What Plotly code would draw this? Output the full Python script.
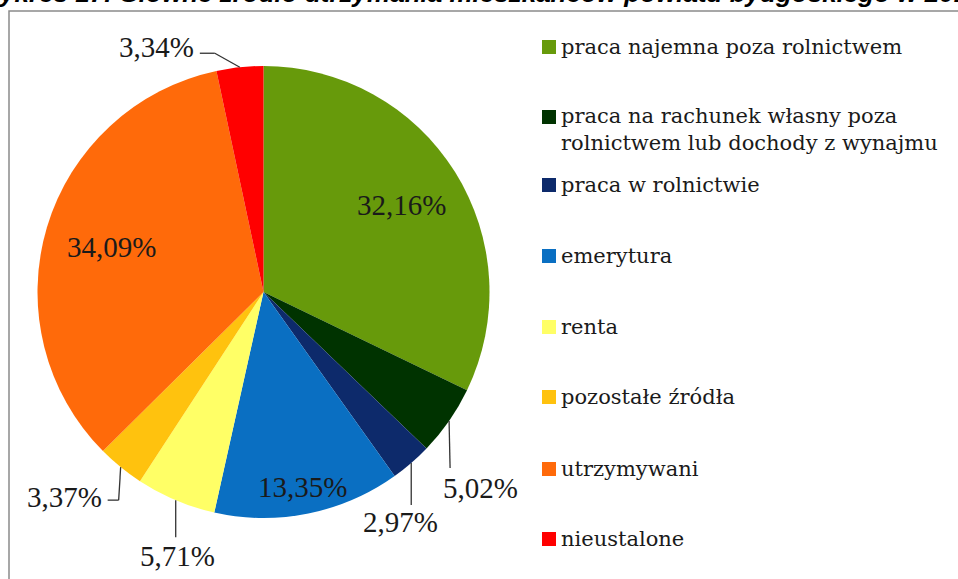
import math
import plotly.graph_objects as go

categories = [
    "praca najemna poza rolnictwem",
    "praca na rachunek własny poza<br>rolnictwem lub dochody z wynajmu",
    "praca w rolnictwie",
    "emerytura",
    "renta",
    "pozostałe źródła",
    "utrzymywani",
    "nieustalone",
]
values = [32.16, 5.02, 2.97, 13.35, 5.71, 3.37, 34.09, 3.34]
value_labels = ["32,16%", "5,02%", "2,97%", "13,35%", "5,71%", "3,37%", "34,09%", "3,34%"]
colors = ["#679A0B", "#003300", "#0D2A6B", "#0A6FC2", "#FFFF66", "#FFC20E", "#FF6A0A", "#FF0000"]
title_text = "Wykres 17. Główne źródło utrzymania mieszkańców powiatu bydgoskiego w 2011 r."

W, H = 958, 579
CX, CY, R = 263.5, 292.0, 226.0


def px(x):
    return x / W


def py(y):
    return 1 - y / H


fig = go.Figure()
fig.add_trace(go.Pie(
    labels=categories,
    values=values,
    sort=False,
    direction="clockwise",
    rotation=0,
    marker=dict(colors=colors, line=dict(width=0)),
    textinfo="none",
    hoverinfo="label+percent",
    showlegend=False,
    domain=dict(x=[px(CX - R), px(CX + R)], y=[py(CY + R), py(CY - R)]),
))

# mid angles of slices (clockwise from 12 o'clock)
total = sum(values)
mids = []
acc = 0.0
for v in values:
    mids.append((acc + v / 2) / total * 2 * math.pi)
    acc += v


def on_circle(i, frac):
    a = mids[i]
    return CX + frac * R * math.sin(a), CY - frac * R * math.cos(a)


annotations = []
shapes = []
label_font = dict(family="Liberation Serif, Times New Roman, serif", size=29, color="#1a1a1a")

# inside labels
for i, frac in [(0, 0.72), (6, 0.70), (3, 0.88)]:
    x, y = on_circle(i, frac)
    annotations.append(dict(x=px(x), y=py(y), xref="paper", yref="paper", text=value_labels[i],
                            showarrow=False, font=label_font, xanchor="center", yanchor="middle"))

line_style = dict(color="#333333", width=1.3)


def seg(x0, y0, x1, y1):
    shapes.append(dict(type="line", xref="paper", yref="paper", x0=px(x0), y0=py(y0),
                       x1=px(x1), y1=py(y1), line=line_style))


# outside labels with leader lines
# dark green (5,02%)
x, y = on_circle(1, 1.0)
seg(x, y, x + 1, y + 47)
annotations.append(dict(x=px(x + 31), y=py(y + 67), xref="paper", yref="paper", text=value_labels[1],
                        showarrow=False, font=label_font, xanchor="center", yanchor="middle"))
# navy (2,97%)
x, y = on_circle(2, 1.0)
seg(x, y, x, y + 42)
annotations.append(dict(x=px(x - 11), y=py(y + 59), xref="paper", yref="paper", text=value_labels[2],
                        showarrow=False, font=label_font, xanchor="center", yanchor="middle"))
# yellow (5,71%)
x, y = on_circle(4, 1.0)
seg(x, y, x, y + 37)
annotations.append(dict(x=px(x + 2), y=py(y + 56), xref="paper", yref="paper", text=value_labels[4],
                        showarrow=False, font=label_font, xanchor="center", yanchor="middle"))
# gold (3,37%)
x, y = on_circle(5, 1.0)
seg(x, y, x - 2, y + 33)
seg(x - 2, y + 33, x - 13, y + 33)
annotations.append(dict(x=px(x - 17), y=py(y + 30), xref="paper", yref="paper", text=value_labels[5],
                        showarrow=False, font=label_font, xanchor="right", yanchor="middle"))
# red (3,34%)
x, y = on_circle(7, 1.0)
seg(x, y, x - 25, y - 14)
seg(x - 25, y - 14, x - 40, y - 14)
annotations.append(dict(x=px(x - 44), y=py(y - 20), xref="paper", yref="paper", text=value_labels[7],
                        showarrow=False, font=label_font, xanchor="right", yanchor="middle"))

# custom legend
legend_font = dict(family="DejaVu Serif, Liberation Serif, serif", size=21, color="#1a1a1a")
legend_rows = [47, 117, 185, 256, 327, 397, 469, 539]
for i, (cat, yc) in enumerate(zip(categories, legend_rows)):
    shapes.append(dict(type="rect", xref="paper", yref="paper",
                       x0=px(542), x1=px(556), y0=py(yc + 7), y1=py(yc - 7),
                       fillcolor=colors[i], line=dict(width=0)))
    two = "<br>" in cat
    annotations.append(dict(x=px(559), y=py(yc - 15) if two else py(yc), xref="paper", yref="paper",
                            text=cat, showarrow=False, font=legend_font, xanchor="left",
                            yanchor="top" if two else "middle", align="left"))

# frame
shapes.append(dict(type="rect", xref="paper", yref="paper", x0=px(9), y0=py(11), x1=px(975), y1=py(600),
                   line=dict(color="#8a8a8a", width=1.5), fillcolor="rgba(0,0,0,0)", layer="below"))

# title, cut off at the top edge as in the reference
annotations.append(dict(x=px(-26), y=py(-7), xref="paper", yref="paper",
                        text="<b><i>" + title_text + "</i></b>",
                        showarrow=False, font=dict(family="Liberation Sans, Arial, sans-serif", size=26, color="#000"),
                        xanchor="left", yanchor="middle"))

fig.update_layout(
    width=W, height=H,
    margin=dict(l=0, r=0, t=0, b=0),
    paper_bgcolor="white",
    plot_bgcolor="white",
    showlegend=False,
    annotations=annotations,
    shapes=shapes,
)

fig.write_html("out.html", config={"displayModeBar": False},
               post_script="document.body.style.margin='0';")
